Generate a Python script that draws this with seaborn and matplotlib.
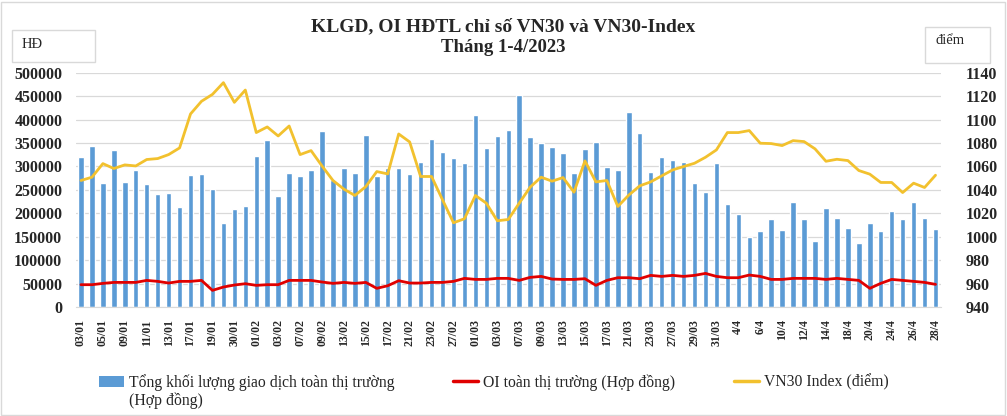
import numpy as np
import matplotlib
matplotlib.use("Agg")
import matplotlib.pyplot as plt
from matplotlib.patches import Rectangle, Patch
from matplotlib.lines import Line2D
import seaborn as sns

# Trading days Jan-Apr 2023
dates = ["03/01", "04/01", "05/01", "06/01", "09/01", "10/01", "11/01", "12/01", "13/01", "16/01",
         "17/01", "18/01", "19/01", "27/01", "30/01", "31/01",
         "01/02", "02/02", "03/02", "06/02", "07/02", "08/02", "09/02", "10/02", "13/02", "14/02",
         "15/02", "16/02", "17/02", "20/02", "21/02", "22/02", "23/02", "24/02", "27/02", "28/02",
         "01/03", "02/03", "03/03", "06/03", "07/03", "08/03", "09/03", "10/03", "13/03", "14/03",
         "15/03", "16/03", "17/03", "20/03", "21/03", "22/03", "23/03", "24/03", "27/03", "28/03",
         "29/03", "30/03", "31/03",
         "3/4", "4/4", "5/4", "6/4", "7/4", "10/4", "11/4", "12/4", "13/4", "14/4", "17/4",
         "18/4", "19/4", "20/4", "21/4", "24/4", "25/4", "26/4", "27/4", "28/4"]

# Tong khoi luong giao dich (hop dong)
volume = [320000, 343000, 265000, 335000, 267000, 292000, 262000, 241000, 243000, 214000,
          282000, 284000, 252000, 180000, 209000, 216000, 322000, 356000, 237000, 286000,
          280000, 292000, 376000, 270000, 297000, 285000, 367000, 280000, 297000, 297000,
          284000, 310000, 359000, 331000, 318000, 307000, 410000, 339000, 365000, 378000,
          452000, 363000, 351000, 342000, 329000, 286000, 337000, 352000, 299000, 293000,
          416000, 371000, 288000, 320000, 314000, 310000, 265000, 246000, 307000,
          220000, 199000, 150000, 163000, 188000, 165000, 224000, 188000, 141000, 212000,
          190000, 169000, 137000, 180000, 163000, 205000, 188000, 224000, 190000, 167000]

# OI toan thi truong (hop dong)
oi = [47600, 47600, 50400, 52500, 52500, 52500, 56800, 54700, 51100, 54700,
      54700, 56800, 35500, 42600, 46900, 49700, 46200, 47600, 47600, 56800,
      56800, 56800, 53300, 50400, 52500, 50400, 52500, 39800, 45400, 56100,
      51100, 51100, 52500, 52500, 54700, 61100, 58900, 58900, 61100, 61100,
      56800, 63200, 65300, 59600, 58900, 58900, 60400, 46200, 56800, 62500,
      62500, 60400, 67500, 65300, 67500, 65300, 67500, 71700, 65300,
      62500, 62500, 68200, 65300, 58900, 58900, 61100, 61100, 61100, 58900,
      61100, 58900, 56800, 39800, 50400, 58900, 56800, 54700, 52500, 48300]

# VN30 Index (diem)
vn30 = [1048, 1050.8, 1062.4, 1058.2, 1061.3, 1060.4, 1065.9, 1066.7, 1070.1, 1075.8,
        1104.8, 1115.6, 1121.5, 1131.5, 1114.7, 1125.2, 1088.9, 1093.7, 1086, 1094.5,
        1070.1, 1073.5, 1060.4, 1048, 1040.6, 1035.2, 1042.8, 1055.6, 1053.6, 1087.7,
        1080.9, 1051.4, 1051.4, 1031.5, 1011.9, 1015.3, 1035.2, 1028.6, 1013.6, 1014.7,
        1028.6, 1042.3, 1050.8, 1047.4, 1050.5, 1038, 1064.7, 1046.8, 1048, 1025.8,
        1035.5, 1043.4, 1046.8, 1051.9, 1057, 1059.9, 1062.7, 1067.8, 1074.1,
        1088.9, 1088.9, 1090.6, 1079.8, 1079.5, 1077.8, 1082, 1081.2, 1075, 1064.4,
        1066.1, 1065, 1056.5, 1053.4, 1046.3, 1046.3, 1037.7, 1045.7, 1042, 1052.5]

tick_labels = dates[::2]
left_ticks = [0, 50000, 100000, 150000, 200000, 250000, 300000, 350000, 400000, 450000, 500000]
right_ticks = [940, 960, 980, 1000, 1020, 1040, 1060, 1080, 1100, 1120, 1140]

labels = ["Tổng khối lượng giao dịch toàn thị trường",
          "OI toàn thị trường (Hợp đồng)",
          "VN30 Index (điểm)"]
label_line2 = "(Hợp đồng)"

blue = "#5B9BD5"
red = "#E00000"
gold = "#F2C12E"
grid = "#D9D9D9"

sns.set_style("white")
plt.rcParams["font.family"] = ["Liberation Serif", "DejaVu Serif"]

fig = plt.figure(figsize=(10.07, 4.16), dpi=100)
ax = fig.add_axes([75.5 / 1007, 109 / 416, 865.5 / 1007, 234.3 / 416])

x = np.arange(len(dates))
sns.barplot(x=dates, y=volume, color=blue, saturation=1, width=0.5, ax=ax, zorder=2)
sns.lineplot(x=x, y=oi, color=red, linewidth=2, ax=ax, zorder=3)

ax.set_xlim(-0.5, len(dates) - 0.5)
ax.set_ylim(0, 500000)
ax.set_yticks(left_ticks)
ax.set_yticklabels([str(v) for v in left_ticks], fontsize=11.5, fontweight="bold")
ax.set_xticks(x[::2])
ax.set_xticklabels(tick_labels, rotation=90, fontsize=8.5, fontweight="bold")
ax.tick_params(axis="both", length=0)
ax.tick_params(axis="y", pad=9.5)
ax.tick_params(axis="x", pad=9)
ax.yaxis.grid(True, color=grid, linewidth=0.9, zorder=0)
ax.set_axisbelow(True)
ax.set_xlabel("")
ax.set_ylabel("")
for s in ["left", "right", "top"]:
    ax.spines[s].set_visible(False)
ax.spines["bottom"].set_color(grid)

ax2 = ax.twinx()
sns.lineplot(x=x, y=vn30, color=gold, linewidth=2, ax=ax2)
ax2.set_ylim(940, 1140)
ax2.set_yticks(right_ticks)
ax2.set_yticklabels([str(v) for v in right_ticks], fontsize=11.5, fontweight="bold")
ax2.tick_params(axis="y", length=0, pad=18)
ax2.set_ylabel("")
for s in ax2.spines.values():
    s.set_visible(False)
ax2.set_xlim(-0.5, len(dates) - 0.5)

# title
fig.text(0.5, 1 - 27 / 416, "KLGD, OI HĐTL chỉ số VN30 và VN30-Index", ha="center", va="center",
         fontsize=14, fontweight="bold")
fig.text(0.5, 1 - 47 / 416, "Tháng 1-4/2023", ha="center", va="center",
         fontsize=13.5, fontweight="bold")

# unit boxes
fig.patches.append(Rectangle((12 / 1007, 1 - 62 / 416), 83 / 1007, 32 / 416, transform=fig.transFigure,
                             facecolor="white", edgecolor=grid, linewidth=1))
fig.text(22 / 1007, 1 - 44 / 416, "HĐ", ha="left", va="center", fontsize=10.5)
fig.patches.append(Rectangle((925 / 1007, 1 - 63 / 416), 65 / 1007, 36 / 416, transform=fig.transFigure,
                             facecolor="white", edgecolor=grid, linewidth=1))
fig.text(935 / 1007, 1 - 40 / 416, "điểm", ha="left", va="center", fontsize=10.5)

# outer border
fig.patches.append(Rectangle((1 / 1007, 1 / 416), 1004 / 1007, 413 / 416, transform=fig.transFigure,
                             facecolor="none", edgecolor=grid, linewidth=1))

handles = [Patch(facecolor=blue, edgecolor="none"),
           Line2D([], [], color=red, linewidth=2.5),
           Line2D([], [], color=gold, linewidth=2.5)]
leg = fig.legend(handles, labels, loc="upper left", bbox_to_anchor=(99 / 1007, 1 - 374 / 416),
                 ncol=3, frameon=False, fontsize=11.3, handlelength=1.6, handleheight=0.7,
                 handletextpad=0.3, columnspacing=3.75, borderpad=0, borderaxespad=0)

# second line of the first legend label, under its first line
fig.canvas.draw()
t0 = leg.get_texts()[0].get_window_extent()
fig.text(t0.x0 / 1007, (t0.y0 - 18) / 416, label_line2, ha="left", va="bottom", fontsize=11.3)

fig.savefig("out.png", dpi=100)
